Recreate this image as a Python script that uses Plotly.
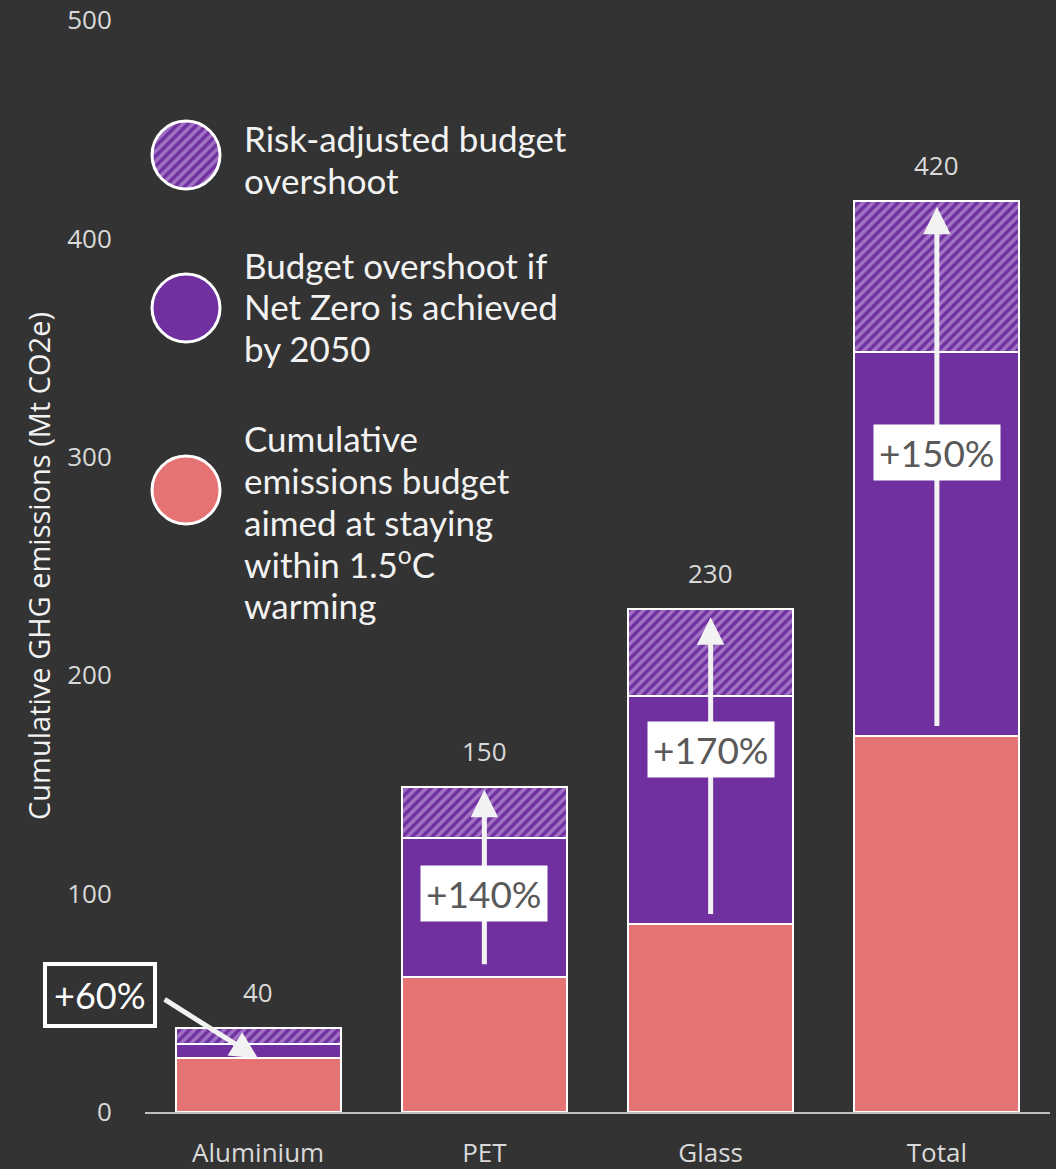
import plotly.graph_objects as go

# Datos
categorias = ["Aluminium", "PET", "Glass", "Total"]
presupuesto = [24.5, 62, 86, 172]        # Cumulative emissions budget (1.5C)
sobrepaso = [6.5, 63.5, 104.5, 176]      # Budget overshoot if Net Zero by 2050
riesgo = [7.5, 23.5, 40, 69]             # Risk-adjusted budget overshoot
etiquetas_total = ["40", "150", "230", "420"]

# Flechas y porcentajes (PET, Glass, Total)
flecha_cats = ["PET", "Glass", "Total"]
flecha_inicio = [67, 90, 176]
flecha_fin = [147.5, 226.5, 414.5]
pct_texto = ["+140%", "+170%", "+150%"]
pct_y = [100, 166, 302]

leyenda_lineas = [
    ["Risk-adjusted budget", "overshoot"],
    ["Budget overshoot if", "Net Zero is achieved", "by 2050"],
    ["Cumulative", "emissions budget", "aimed at staying", "within 1.5<sup>o</sup>C", "warming"],
]

FONDO = "#333333"
MORADO = "#7030A0"
CORAL = "#E57373"
LAVANDA = "#D4B6E8"
TEXTO = "#D9D9D9"

# Conversión de píxeles a coordenadas "paper" (área de trazado 145..1050 x 20..1112)
def px_x(p):
    return (p - 145) / 905

def px_y(p):
    return (1112 - p) / 1092

fig = go.Figure()

fig.add_trace(go.Bar(x=categorias, y=presupuesto, marker=dict(color=CORAL, line=dict(color="white", width=2))))
fig.add_trace(go.Bar(x=categorias, y=sobrepaso, marker=dict(color=MORADO, line=dict(color="white", width=2))))
fig.add_trace(go.Bar(x=categorias, y=riesgo,
                     marker=dict(color=MORADO, line=dict(color="white", width=2),
                                 pattern=dict(shape="/", fgcolor=LAVANDA, bgcolor=MORADO,
                                              size=7, solidity=0.5, fillmode="overlay"))))

totales = [a + b + c for a, b, c in zip(presupuesto, sobrepaso, riesgo)]

anotaciones = []
# Valores encima de las barras
for cat, tot, txt in zip(categorias, totales, etiquetas_total):
    anotaciones.append(dict(x=cat, y=tot, text=txt, showarrow=False, yanchor="middle", yshift=36,
                            font=dict(family="Open Sans", size=26, color=TEXTO)))

# Flechas verticales
for cat, y0, y1 in zip(flecha_cats, flecha_inicio, flecha_fin):
    anotaciones.append(dict(x=cat, y=y1, ax=cat, ay=y0, axref="x", ayref="y", xref="x", yref="y",
                            text="", showarrow=True, arrowhead=2, arrowsize=1.1, arrowwidth=5,
                            arrowcolor="#F2F2F2"))

# Cajas de porcentaje
for cat, yy, txt in zip(flecha_cats, pct_y, pct_texto):
    anotaciones.append(dict(x=cat, y=yy, text=txt, showarrow=False, bgcolor="white", borderpad=5,
                            font=dict(family="Lato", size=37, color="#595959")))

# +60% para Aluminium
anotaciones.append(dict(x="Aluminium", y=24.5, ax=-95, ay=-60, text="", showarrow=True,
                        arrowhead=2, arrowsize=1.1, arrowwidth=5, arrowcolor="#F2F2F2"))
anotaciones.append(dict(x=px_x(100), xref="paper", xanchor="center", y=53.5, yref="y", text="+60%",
                        showarrow=False, bgcolor=FONDO, bordercolor="white", borderwidth=4, borderpad=7,
                        font=dict(family="Lato", size=36, color="white")))

# Leyenda manual (círculos con pie + texto línea a línea)
centros_y = [155, 308, 490]
primera_linea = [138, 264, 438]
estilos = [
    dict(colors=[MORADO], pattern=dict(shape="/", fgcolor=LAVANDA, bgcolor=MORADO, size=7, solidity=0.5, fillmode="overlay")),
    dict(colors=[MORADO]),
    dict(colors=[CORAL]),
]
for cy, y0, est, lineas in zip(centros_y, primera_linea, estilos, leyenda_lineas):
    r = 34 / 1092
    fig.add_trace(go.Pie(values=[1], marker=dict(line=dict(color="white", width=3), **est),
                         textinfo="none", hoverinfo="skip", sort=False, showlegend=False,
                         domain=dict(x=[px_x(152), px_x(220)], y=[px_y(cy) - r, px_y(cy) + r])))
    for i, linea in enumerate(lineas):
        anotaciones.append(dict(x=px_x(242), xref="paper", y=px_y(y0 + 41.5 * i), yref="paper", text=linea,
                                showarrow=False, xanchor="left", yanchor="middle", align="left", height=41,
                                font=dict(family="Lato", size=35, color="#F2F2F2")))

fig.update_layout(
    barmode="stack",
    bargap=0.27,
    showlegend=False,
    width=1056,
    height=1169,
    paper_bgcolor=FONDO,
    plot_bgcolor=FONDO,
    margin=dict(l=145, r=6, t=20, b=57),
    annotations=anotaciones,
    xaxis=dict(range=[-0.5, 3.5], showline=True, linecolor="#BFBFBF", linewidth=2, automargin=False,
               ticks="outside", ticklen=17, tickcolor="rgba(0,0,0,0)",
               tickfont=dict(family="Open Sans", size=26, color=TEXTO)),
    yaxis=dict(range=[0, 500], dtick=100, showgrid=False, zeroline=False, automargin=False,
               ticks="outside", ticklen=27, tickcolor="rgba(0,0,0,0)",
               tickfont=dict(family="Open Sans", size=26, color=TEXTO),
               title=dict(text="Cumulative GHG emissions (Mt CO2e)", standoff=8,
                          font=dict(family="Open Sans", size=29, color="#F2F2F2"))),
)

fig.write_html("out.html", config={"displayModeBar": False},
               post_script="document.body.style.margin='0px';")
